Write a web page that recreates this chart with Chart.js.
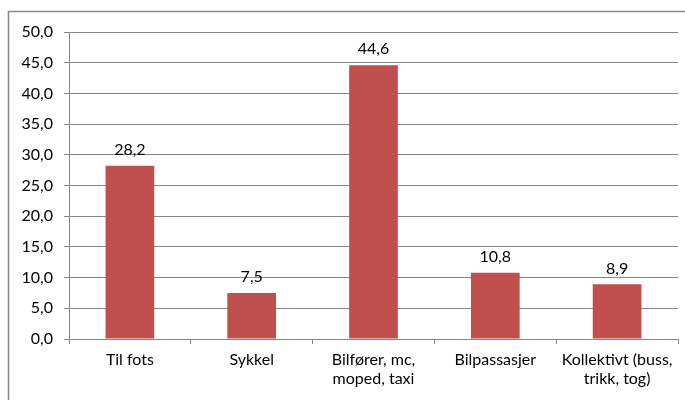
<!DOCTYPE html>
<html><head><meta charset="utf-8">
<script src="https://cdn.jsdelivr.net/npm/chart.js@4/dist/chart.umd.min.js"></script>
<style>html,body{margin:0;padding:0;background:#fff}#wrap{width:685px;height:400px;position:relative}</style>
</head><body><div id="wrap"><canvas id="c" width="685" height="400"></canvas></div>
<script>
const categories = ["Til fots", "Sykkel", ["Bilfører, mc,", "moped, taxi"], "Bilpassasjer", ["Kollektivt (buss,", "trikk, tog)"]];
const values = [28.2, 7.5, 44.6, 10.8, 8.9];
const yTicks = [0, 5, 10, 15, 20, 25, 30, 35, 40, 45, 50];

const FONT = "Lato, 'Open Sans', sans-serif";
const fmt = v => v.toFixed(1).replace('.', ',');

const frame = {
  id: 'frame',
  beforeDraw(chart) {
    const ctx = chart.ctx;
    ctx.save();
    ctx.strokeStyle = '#878787';
    ctx.lineWidth = 1.5;
    ctx.strokeRect(8.5, 11.5, 800, 500);
    ctx.restore();
  }
};
const valueLabels = {
  id: 'valueLabels',
  afterDatasetsDraw(chart) {
    const ctx = chart.ctx;
    const meta = chart.getDatasetMeta(0);
    ctx.save();
    ctx.font = "16px " + FONT;
    ctx.fillStyle = '#000';
    ctx.textAlign = 'center';
    ctx.textBaseline = 'bottom';
    meta.data.forEach((bar, i) => {
      ctx.fillText(fmt(values[i]), bar.x, bar.y - 8);
    });
    ctx.restore();
  }
};

new Chart(document.getElementById('c'), {
  type: 'bar',
  data: { labels: categories, datasets: [{ data: values, backgroundColor: '#C0504D', categoryPercentage: 1, barPercentage: 0.4 }] },
  options: {
    responsive: false, animation: false, devicePixelRatio: 1,
    layout: { padding: { left: 0, right: 7, top: 32, bottom: 0 } },
    plugins: { legend: { display: false }, tooltip: { enabled: false } },
    scales: {
      x: {
        grid: { display: true, drawOnChartArea: false, offset: true, tickLength: 5, color: '#868686' },
        border: { color: '#868686' },
        ticks: { font: { family: FONT, size: 16 }, color: '#000', padding: 6, maxRotation: 0, autoSkip: false },
        afterFit(s) { s.height = 61; }
      },
      y: {
        min: 0, max: 50,
        afterBuildTicks(s) { s.ticks = yTicks.map(v => ({ value: v })); },
        grid: { color: '#868686', tickLength: 5 },
        border: { color: '#868686' },
        ticks: { font: { family: FONT, size: 16 }, color: '#000', padding: 11, callback: v => fmt(v) },
        afterFit(s) { s.width = 69; }
      }
    }
  },
  plugins: [frame, valueLabels]
});
</script></body></html>
